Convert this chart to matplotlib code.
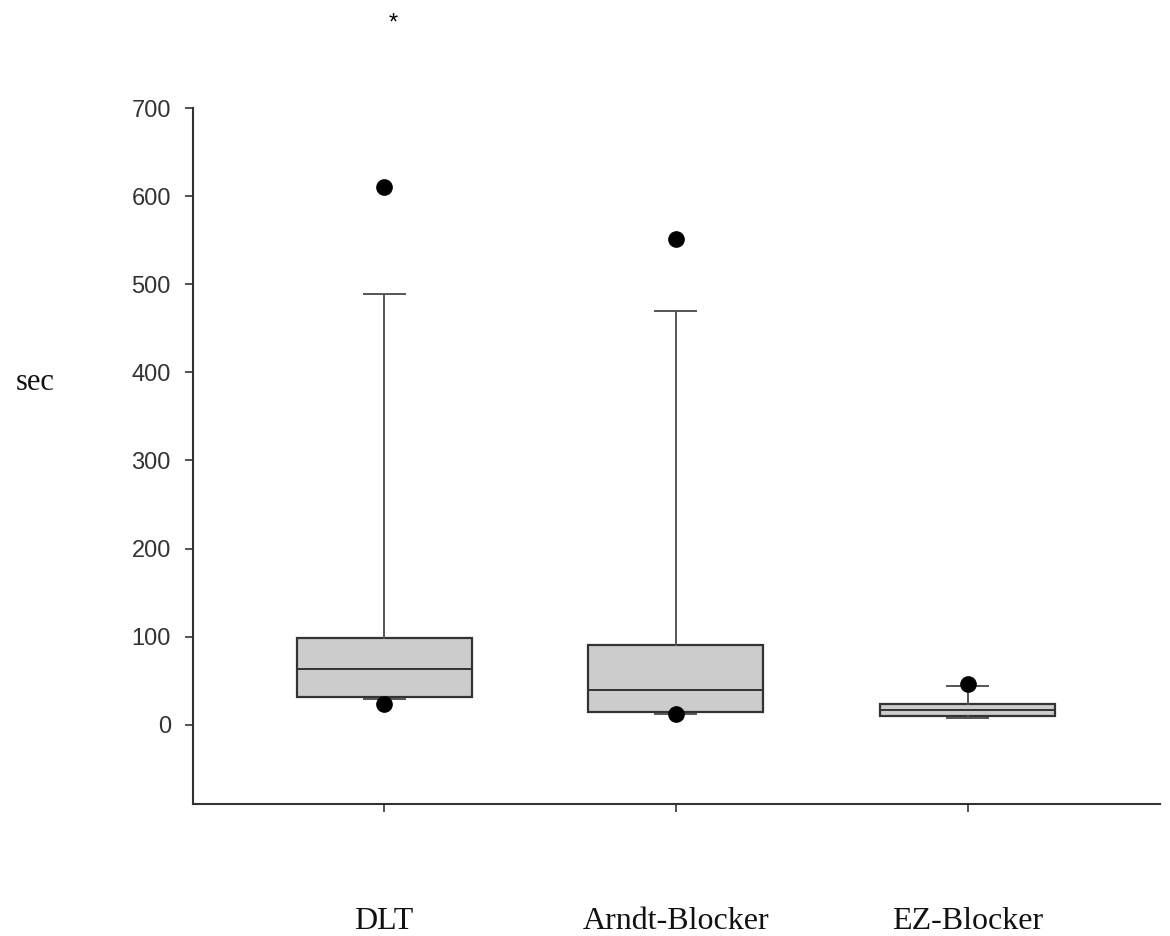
import matplotlib
matplotlib.use("Agg")
import matplotlib.pyplot as plt

# ── Data ──────────────────────────────────────────────────────────────────────
GROUPS   = ["DLT", "Arndt-Blocker", "EZ-Blocker"]
Q1       = [31, 15, 10]
MEDIAN   = [63, 39, 17]
Q3       = [98, 90, 24]
WHISK_LO = [29, 12, 8]
WHISK_HI = [489, 470, 44]
OUTLIERS = [[610, 23], [551, 12], [46]]
Y_TICKS  = [0, 100, 200, 300, 400, 500, 600, 700]

EDGE = "#333333"
FILL = "#cccccc"

fig = plt.figure(figsize=(11.7, 9.36), dpi=100)
ax = fig.add_axes([0.165, 0.141, 0.8265, 0.7436])

stats = []
for name, q1, med, q3, lo, hi, fl in zip(GROUPS, Q1, MEDIAN, Q3,
                                         WHISK_LO, WHISK_HI, OUTLIERS):
    stats.append(dict(label=name, q1=q1, med=med, q3=q3,
                      whislo=lo, whishi=hi, fliers=fl))

ax.bxp(stats, positions=[1, 2, 3], widths=0.6, capwidths=0.14,
       patch_artist=True,
       boxprops=dict(facecolor=FILL, edgecolor=EDGE, linewidth=1.6),
       medianprops=dict(color=EDGE, linewidth=1.4),
       whiskerprops=dict(color="#555555", linewidth=1.4),
       capprops=dict(color="#555555", linewidth=1.4),
       flierprops=dict(marker="o", markerfacecolor="black",
                       markeredgecolor="black", markersize=11))

ax.set_xlim(0.345, 3.66)
ax.set_ylim(-90, 700)
ax.set_yticks(Y_TICKS)
ax.set_yticklabels([str(t) for t in Y_TICKS], fontsize=17,
                   family="Liberation Sans", color="#333333")
ax.set_xticks([1, 2, 3])
ax.set_xticklabels(GROUPS, fontsize=23, family="Liberation Serif",
                   color="#111111")

for s in ["top", "right"]:
    ax.spines[s].set_visible(False)
for s in ["left", "bottom"]:
    ax.spines[s].set_color(EDGE)
    ax.spines[s].set_linewidth(1.5)
ax.tick_params(axis="y", length=6, width=1.2, color=EDGE, pad=10)
ax.tick_params(axis="x", length=6, width=1.2, color=EDGE, pad=68)

fig.text(35 / 1170, 1 - 382 / 936, "sec", ha="center", va="center",
         fontsize=22, family="Liberation Serif", color="#111111")

fig.text(393 / 1170, 1 - 24 / 936, "*", ha="center", va="center",
         fontsize=17, family="Liberation Sans", color="black")

fig.savefig("out.png", dpi=100, facecolor="white")
